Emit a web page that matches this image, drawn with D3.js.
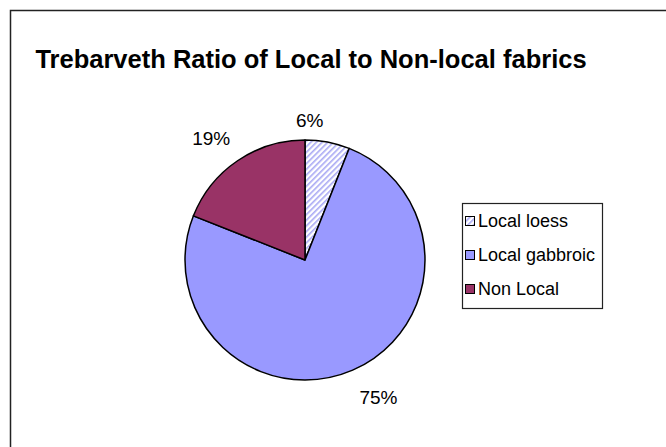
<!DOCTYPE html>
<html>
<head>
<meta charset="utf-8">
<script src="https://cdn.jsdelivr.net/npm/d3@7"></script>
<style>
  html, body { margin: 0; padding: 0; background: #fff; }
  svg { display: block; font-family: "Liberation Sans", Arial, sans-serif; }
</style>
</head>
<body>
<svg id="chart" width="666" height="447"></svg>
<script>
// Fabric shares at Trebarveth (percent)
const categories = ["Local loess", "Local gabbroic", "Non Local"];
const shares = [6, 75, 19];
const titleText = "Trebarveth Ratio of Local to Non-local fabrics";

const svg = d3.select("#chart");
const W = 666, H = 447;

// hatch pattern for the loess slice
const defs = svg.append("defs");
const pat = defs.append("pattern")
  .attr("id", "hatch")
  .attr("patternUnits", "userSpaceOnUse")
  .attr("width", 4).attr("height", 4)
  .attr("patternTransform", "rotate(45)");
pat.append("rect").attr("width", 4).attr("height", 4).attr("fill", "#ffffff");
pat.append("rect").attr("x", 0).attr("y", 0).attr("width", 1.6).attr("height", 4).attr("fill", "#a8a8f4");

const fills = d3.scaleOrdinal()
  .domain(categories)
  .range(["url(#hatch)", "#9999ff", "#993366"]);

// chart area frame (runs off the right and bottom edges)
svg.append("rect")
  .attr("x", 10.5).attr("y", 10.5)
  .attr("width", W + 20).attr("height", H + 20)
  .attr("fill", "#fff").attr("stroke", "#222").attr("stroke-width", 1.5);

// title
svg.append("text")
  .attr("x", 311).attr("y", 68)
  .attr("text-anchor", "middle")
  .attr("font-weight", "bold")
  .attr("font-size", 25.5)
  .attr("fill", "#000")
  .text(titleText);

// pie
const cx = 305, cy = 260, R = 120;
const pie = d3.pie().sort(null).value(d => d.v);
const arcs = pie(categories.map((c, i) => ({ c, v: shares[i] })));
const arc = d3.arc().innerRadius(0).outerRadius(R);
const labelArc = d3.arc().innerRadius(142).outerRadius(142);

const g = svg.append("g").attr("transform", `translate(${cx},${cy})`);
g.selectAll("path.slice")
  .data(arcs)
  .join("path")
  .attr("class", "slice")
  .attr("d", arc)
  .attr("fill", d => fills(d.data.c))
  .attr("stroke", "#000")
  .attr("stroke-width", 1.5)
  .attr("stroke-linejoin", "round");

// outside labels, nudged clear of the rim
const labelNudge = [[-22, 0], [17, 7], [-14, -4]];
g.selectAll("text.pct")
  .data(arcs)
  .join("text")
  .attr("class", "pct")
  .attr("x", (d, i) => labelArc.centroid(d)[0] + labelNudge[i][0])
  .attr("y", (d, i) => labelArc.centroid(d)[1] + labelNudge[i][1])
  .attr("text-anchor", "middle")
  .attr("dominant-baseline", "central")
  .attr("font-size", 19)
  .attr("fill", "#000")
  .text(d => Math.round(d.data.v) + "%");

// legend
const lx = 462, ly = 203, lw = 140, lh = 105, rowH = 34;
const legend = svg.append("g");
legend.append("rect")
  .attr("x", lx + 0.5).attr("y", ly + 0.5)
  .attr("width", lw).attr("height", lh)
  .attr("fill", "#fff").attr("stroke", "#222").attr("stroke-width", 1.2);

const rows = legend.selectAll("g.row")
  .data(categories)
  .join("g")
  .attr("class", "row")
  .attr("transform", (d, i) => `translate(${lx + 3},${ly + 18 + i * rowH})`);
rows.append("rect")
  .attr("x", 0.5).attr("y", -4.5)
  .attr("width", 9).attr("height", 9)
  .attr("fill", d => fills(d))
  .attr("stroke", "#000").attr("stroke-width", 1);
rows.append("text")
  .attr("x", 13).attr("y", 0)
  .attr("dominant-baseline", "central")
  .attr("font-size", 18)
  .attr("fill", "#000")
  .text(d => d);
</script>
</body>
</html>
